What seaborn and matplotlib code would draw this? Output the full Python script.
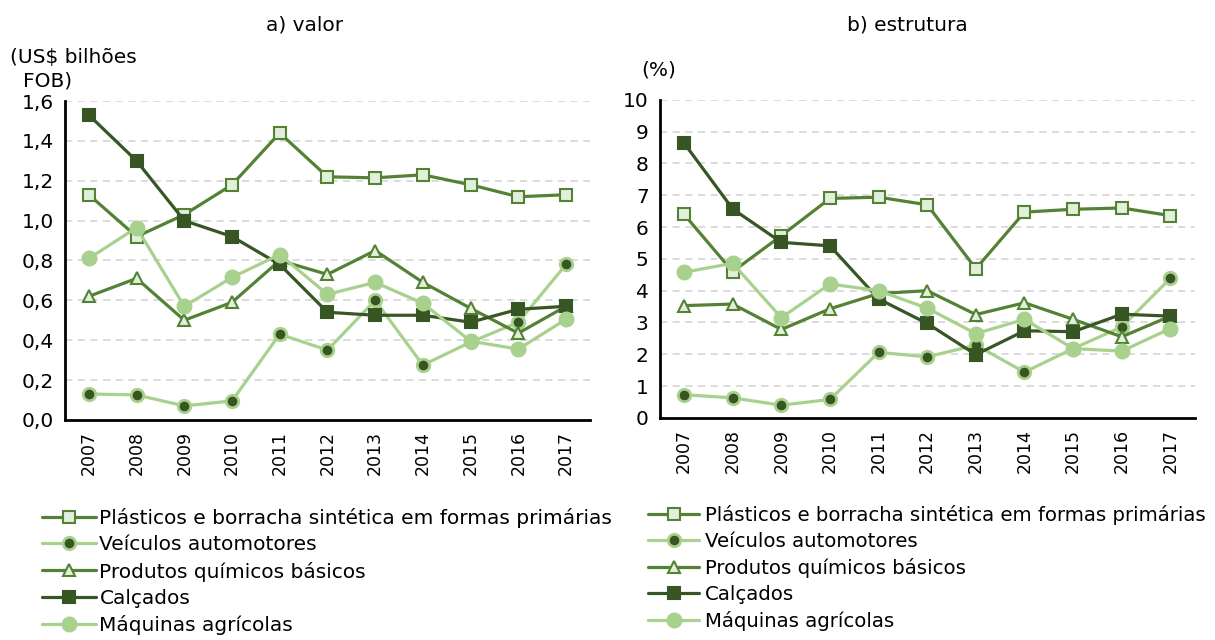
import matplotlib
matplotlib.use("Agg")
from matplotlib import pyplot as plt
from matplotlib.ticker import FuncFormatter, FixedLocator
import numpy as np
import pandas as pd
import seaborn as sns

# Data
years = [2007, 2008, 2009, 2010, 2011, 2012, 2013, 2014, 2015, 2016, 2017]
series_names = [
    "Plásticos e borracha sintética em formas primárias",
    "Veículos automotores",
    "Produtos químicos básicos",
    "Calçados",
    "Máquinas agrícolas",
]

# a) valor (US$ bilhões FOB)
valor_plasticos = [1.13, 0.92, 1.03, 1.18, 1.44, 1.22, 1.215, 1.23, 1.18, 1.12, 1.13]
valor_veiculos = [0.13, 0.125, 0.07, 0.095, 0.43, 0.35, 0.60, 0.275, 0.39, 0.49, 0.78]
valor_quimicos = [0.62, 0.71, 0.50, 0.59, 0.80, 0.73, 0.85, 0.69, 0.56, 0.435, 0.57]
valor_calcados = [1.53, 1.30, 1.00, 0.92, 0.78, 0.54, 0.525, 0.525, 0.49, 0.555, 0.57]
valor_maquinas = [0.81, 0.965, 0.57, 0.715, 0.83, 0.63, 0.69, 0.585, 0.395, 0.355, 0.505]

# b) estrutura (%)
estr_plasticos = [6.40, 4.60, 5.73, 6.90, 6.94, 6.70, 4.69, 6.47, 6.56, 6.60, 6.36]
estr_veiculos = [0.73, 0.63, 0.40, 0.58, 2.06, 1.92, 2.29, 1.44, 2.18, 2.86, 4.39]
estr_quimicos = [3.53, 3.58, 2.78, 3.43, 3.91, 4.00, 3.25, 3.62, 3.10, 2.55, 3.20]
estr_calcados = [8.64, 6.57, 5.52, 5.41, 3.74, 2.97, 1.99, 2.74, 2.71, 3.26, 3.20]
estr_maquinas = [4.58, 4.86, 3.15, 4.21, 4.00, 3.45, 2.65, 3.10, 2.18, 2.10, 2.81]

valor = [valor_plasticos, valor_veiculos, valor_quimicos, valor_calcados, valor_maquinas]
estrutura = [estr_plasticos, estr_veiculos, estr_quimicos, estr_calcados, estr_maquinas]

# line colour, marker, marker face, marker edge, marker size
mid = "#548235"
dark = "#375623"
light = "#a9d18e"
pale = "#e2efda"
styles = [
    dict(color=mid, marker="s", markerfacecolor=pale, markeredgecolor=mid, markersize=9, markeredgewidth=1.5),
    dict(color=light, marker="o", markerfacecolor=dark, markeredgecolor=light, markersize=9, markeredgewidth=2),
    dict(color=mid, marker="^", markerfacecolor=pale, markeredgecolor=mid, markersize=9, markeredgewidth=1.5),
    dict(color=dark, marker="s", markerfacecolor=dark, markeredgecolor=dark, markersize=8, markeredgewidth=1.5),
    dict(color=light, marker="o", markerfacecolor=light, markeredgecolor=light, markersize=10, markeredgewidth=1.5),
]

sns.set_style("white")
plt.rcParams["font.family"] = ["DejaVu Sans"]
plt.rcParams["text.color"] = "black"
plt.rcParams["xtick.color"] = "black"
plt.rcParams["ytick.color"] = "black"
fs = 14.5

fig = plt.figure(figsize=(12.15, 6.4), dpi=100)
ax1 = fig.add_axes([0.0535, 0.344, 0.432, 0.498])
ax2 = fig.add_axes([0.543, 0.347, 0.4403, 0.497])


def draw_panel(ax, data, ymax, ystep, fmt):
    for name, vals, st in zip(series_names, data, styles):
        df = pd.DataFrame({"ano": years, "v": vals})
        sns.lineplot(data=df, x="ano", y="v", ax=ax, linewidth=2.3, label=name, **st)
    ax.set_xlim(years[0] - 0.5, years[-1] + 0.5)
    ax.set_ylim(0, ymax)
    yt = np.arange(0, ymax + ystep / 2, ystep)
    ax.set_yticks(yt)
    ax.yaxis.set_major_formatter(FuncFormatter(fmt))
    for y in yt[1:]:
        ax.axhline(y, color="#d9d9d9", linestyle=(0, (4, 3)), linewidth=1.3, zorder=0)
    ax.set_xticks(years)
    ax.set_xticklabels([str(y) for y in years], rotation=90)
    ax.xaxis.set_minor_locator(FixedLocator(np.arange(years[0] - 0.5, years[-1] + 1, 1)))
    ax.tick_params(axis="x", which="major", length=0, pad=8, labelsize=12.5, labelcolor="black")
    ax.tick_params(axis="x", which="minor", length=7, width=2, direction="out", color="black")
    ax.tick_params(axis="y", which="major", length=5, width=2, direction="out", color="black",
                   labelsize=fs, pad=3, labelcolor="black")
    for s in ["top", "right"]:
        ax.spines[s].set_visible(False)
    for s in ["left", "bottom"]:
        ax.spines[s].set_color("black")
        ax.spines[s].set_linewidth(2)
    ax.set_xlabel("")
    ax.set_ylabel("")
    ax.get_legend().remove()


draw_panel(ax1, valor, 1.6, 0.2, lambda v, p: f"{v:.1f}".replace(".", ","))
draw_panel(ax2, estrutura, 10, 1, lambda v, p: f"{v:.0f}")

fig.text(0.251, 1 - 25 / 640, "a) valor", ha="center", va="center", fontsize=fs)
fig.text(0.7465, 1 - 25 / 640, "b) estrutura", ha="center", va="center", fontsize=fs)
fig.text(10 / 1215, 1 - 57 / 640, "(US$ bilhões", ha="left", va="center", fontsize=fs)
fig.text(23 / 1215, 1 - 81 / 640, "FOB)", ha="left", va="center", fontsize=fs)
fig.text(641 / 1215, 1 - 70 / 640, "(%)", ha="left", va="center", fontsize=fs)

handles, labels = ax1.get_legend_handles_labels()
fig.legend(handles, labels, loc="upper left", bbox_to_anchor=(42 / 1215, 1 - 508 / 640),
           frameon=False, handlelength=2.7, handletextpad=0.15, labelspacing=0.36,
           fontsize=fs, borderaxespad=0, borderpad=0)
handles, labels = ax2.get_legend_handles_labels()
fig.legend(handles, labels, loc="upper left", bbox_to_anchor=(648 / 1215, 1 - 505 / 640),
           frameon=False, handlelength=2.6, handletextpad=0.3, labelspacing=0.36,
           fontsize=14.2, borderaxespad=0, borderpad=0)

fig.savefig("out.png", dpi=100)
